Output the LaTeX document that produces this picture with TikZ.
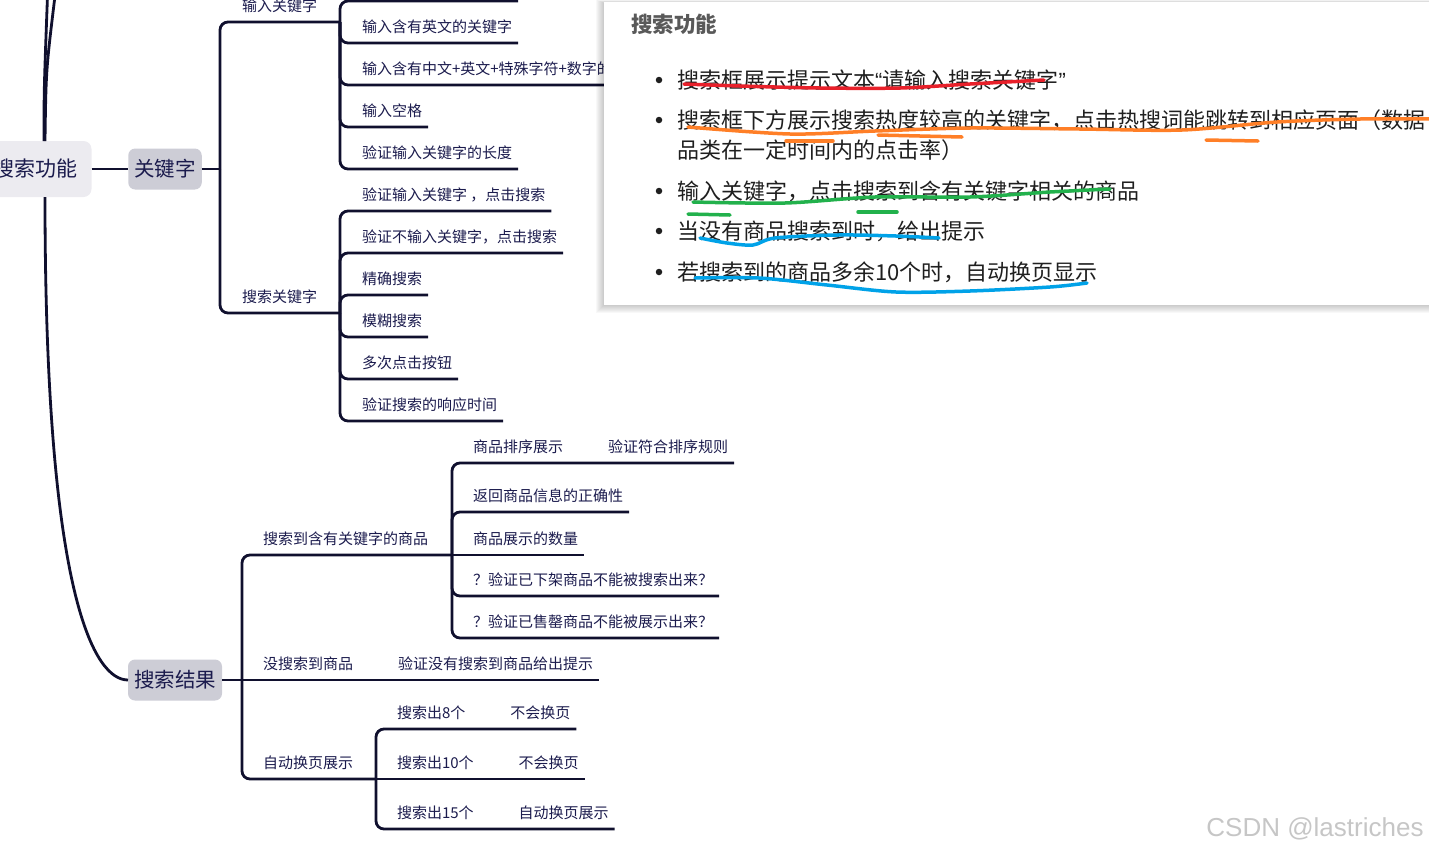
\documentclass[tikz,border=0pt]{standalone}
\usepackage{fontspec}
\newfontfamily\cjk{Noto Sans CJK SC}
\newfontfamily\latinfont{Liberation Sans}
\usepackage{xcolor}
\usetikzlibrary{positioning, calc}
\definecolor{ink}{HTML}{1B1B4D}
\definecolor{wire}{HTML}{10102E}
\definecolor{rootfill}{HTML}{ECEBF0}
\definecolor{hubfill}{HTML}{CDCDD6}
\definecolor{penred}{HTML}{E8202A}
\definecolor{penorange}{HTML}{FF7F27}
\definecolor{pengreen}{HTML}{22B14C}
\definecolor{penblue}{HTML}{00A2E8}
\definecolor{wmgray}{HTML}{C6C6C6}

\begin{document}
\begin{tikzpicture}[
    x=1pt, y=-1pt,
    node distance=0pt and 33pt,
    branch/.style  = {draw=wire, line width=2.8pt, rounded corners=8pt},
    root/.style    = {rectangle, rounded corners=8pt, fill=rootfill, text=ink,
                      font=\cjk\fontsize{21}{24}\selectfont,
                      minimum width=111pt, minimum height=56pt, outer sep=0pt},
    hub/.style     = {rectangle, rounded corners=7pt, fill=hubfill, text=ink,
                      font=\cjk\fontsize{20.5}{24}\selectfont,
                      minimum height=41pt, inner xsep=6pt, outer sep=0pt},
    topic/.style   = {anchor=south west, inner xsep=6pt, inner ysep=9pt,
                      outer sep=0pt, text height=11pt, text depth=2pt,
                      text=ink, font=\cjk\fontsize{15}{18}\selectfont},
    heading/.style = {anchor=west, inner sep=0pt, text=black!65,
                      font=\cjk\bfseries\fontsize{21.5}{24}\selectfont},
    item/.style    = {anchor=west, inner sep=0pt, text=black!88,
                      font=\cjk\fontsize{22}{26}\selectfont},
    dot/.style     = {circle, fill=black!88, inner sep=0pt, minimum size=6.5pt},
    pen/.style     = {line width=3.5pt, line cap=round, line join=round},
    watermark/.style = {inner sep=0pt, text=wmgray,
                      font=\latinfont\fontsize{26}{30}\selectfont},
]
\useasboundingbox (0,0) rectangle (1429,855);

% main topics
\node[root] (root) at (36,169) {搜索功能};
\node[hub]  (kw)   at (165,169) {关键字};
\node[hub]  (res)  at (175,680) {搜索结果};

\coordinate (upA) at (47.5,-4);
\coordinate (upB) at (55,-4);
\draw[branch] ([xshift=8pt]root.north) .. controls (44,90) .. (upA);
\draw[branch] ([xshift=9pt]root.north) .. controls (46,70) .. (upB);
\draw[branch] ([xshift=9pt]root.south) .. controls (45,600) and (95,680) .. (res.west);
\draw[branch] (root) -- (kw);

% keyword branch
\coordinate (kwj) at (220,169);
\node[topic] (inkw) at (236,22) {输入关键字};
\coordinate (inkwj) at (340,22);
\coordinate (cut0) at (518,1);
\node[topic] (inen)    at (356,43)  {输入含有英文的关键字};
\node[topic] (inmix)   at (356,85)  {输入含有中文+英文+特殊字符+数字的};
\node[topic] (inspace) at (356,127) {输入空格};
\node[topic] (inlen)   at (356,169) {验证输入关键字的长度};

\node[topic] (srkw) at (236,313) {搜索关键字};
\coordinate (srkwj) at (340,313);
\node[topic] (vkw)   at (356,211) {验证输入关键字 ，点击搜索};
\node[topic] (vnokw) at (356,253) {验证不输入关键字，点击搜索};
\node[topic] (exact) at (356,295) {精确搜索};
\node[topic] (fuzzy) at (356,337) {模糊搜索};
\node[topic] (multi) at (356,379) {多次点击按钮};
\node[topic] (resp)  at (356,421) {验证搜索的响应时间};

\draw[branch] (kw) -- (kwj);
\draw[branch] (kwj) |- (inkw.south west) -- (inkwj);
\draw[branch] (kwj) |- (srkw.south west) -- (srkwj);
\draw[branch] (inkwj) |- (cut0);
\draw[branch] (inkwj) |- (inen.south west) -- (inen.south east);
\draw[branch] (inkwj) |- (inmix.south west) -- (inmix.south east);
\draw[branch] (inkwj) |- (inspace.south west) -- (inspace.south east);
\draw[branch] (inkwj) |- (inlen.south west) -- (inlen.south east);
\draw[branch] (srkwj) |- (vkw.south west) -- (vkw.south east);
\draw[branch] (srkwj) |- (vnokw.south west) -- (vnokw.south east);
\draw[branch] (srkwj) |- (exact.south west) -- (exact.south east);
\draw[branch] (srkwj) |- (fuzzy.south west) -- (fuzzy.south east);
\draw[branch] (srkwj) |- (multi.south west) -- (multi.south east);
\draw[branch] (srkwj) |- (resp.south west) -- (resp.south east);

% result branch
\coordinate (resj) at (242,680);
\node[topic] (found) at (257,555) {搜索到含有关键字的商品};
\coordinate (foundj) at (452,555);
\node[topic] (sort) at (467,463) {商品排序展示};
\node[topic, right=of sort] (rule) {验证符合排序规则};
\node[topic] (info)     at (467,512) {返回商品信息的正确性};
\node[topic] (count)    at (467,555) {商品展示的数量};
\node[topic] (offshelf) at (467,596) {？验证已下架商品不能被搜索出来？};
\node[topic] (soldout)  at (467,638) {？验证已售罄商品不能被展示出来？};

\node[topic] (none) at (257,680) {没搜索到商品};
\node[topic, right=of none] (notice) {验证没有搜索到商品给出提示};

\node[topic] (auto) at (257,779) {自动换页展示};
\coordinate (autoj) at (376,779);
\node[topic] (n8)  at (391,729) {搜索出8个};
\node[topic, right=of n8] (keep8) {不会换页};
\node[topic] (n10) at (391,779) {搜索出10个};
\node[topic, right=of n10] (keep10) {不会换页};
\node[topic] (n15) at (391,829) {搜索出15个};
\node[topic, right=of n15] (flip15) {自动换页展示};

\draw[branch] (res) -- (resj);
\draw[branch] (resj) |- (found.south west) -- (foundj);
\draw[branch] (resj) -- (none.south west) -- (notice.south east);
\draw[branch] (resj) |- (auto.south west) -- (autoj);
\draw[branch] (foundj) |- (sort.south west) -- (rule.south east);
\draw[branch] (foundj) |- (info.south west) -- (info.south east);
\draw[branch] (foundj) -- (count.south west) -- (count.south east);
\draw[branch] (foundj) |- (offshelf.south west) -- (offshelf.south east);
\draw[branch] (foundj) |- (soldout.south west) -- (soldout.south east);
\draw[branch] (autoj) |- (n8.south west) -- (keep8.south east);
\draw[branch] (autoj) -- (n10.south west) -- (keep10.south east);
\draw[branch] (autoj) |- (n15.south west) -- (flip15.south east);

% note popup with a soft shadow
\foreach \s in {1,...,8}
  \fill[black, opacity=0.028] (604-\s,3-0.4*\s) rectangle (1440,305+\s);
\fill[white] (604,2) rectangle (1440,305);

\node[heading] (title) at (631,24) {搜索功能};
\node[dot] (b1) at (659,80)  {};
\node[dot] (b2) at (659,120) {};
\node[dot] (b3) at (659,191) {};
\node[dot] (b4) at (659,231) {};
\node[dot] (b5) at (659,272) {};
\node[item] (i1)  at (677,80)  {搜索框展示提示文本{\latinfont “}请输入搜索关键字{\latinfont ”}};
\node[item] (i2)  at (677,120) {搜索框下方展示搜索热度较高的关键字，点击热搜词能跳转到相应页面（数据};
\node[item] (i2b) at (677,150) {品类在一定时间内的点击率）};
\node[item] (i3)  at (677,191) {输入关键字，点击搜索到含有关键字相关的商品};
\node[item] (i4)  at (677,231) {当没有商品搜索到时，给出提示};
\node[item] (i5)  at (677,272) {若搜索到的商品多余10个时，自动换页显示};

% hand-drawn marks
\draw[pen, penred] plot[smooth] coordinates
  {(684,84) (740,86) (820,88) (900,88) (970,84) (1044,80)};
\draw[pen, penorange] plot[smooth] coordinates
  {(688,127) (790,134) (875,131) (970,128) (1080,129) (1182,130) (1277,122) (1360,119) (1435,119)};
\draw[pen, penorange] (786,141) -- (833,141);
\draw[pen, penorange] (878,135) -- (962,137);
\draw[pen, penorange] (1206,140) -- (1258,141);
\draw[pen, pengreen] plot[smooth] coordinates
  {(693,202) (785,203) (875,197) (970,197) (1050,192) (1110,189)};
\draw[pen, pengreen] (688,214) -- (730,215);
\draw[pen, pengreen] (858,212) -- (897,212);
\draw[pen, penblue] plot[smooth] coordinates
  {(700,238) (727,243) (753,245) (775,238) (838,235) (896,236) (939,238)};
\draw[pen, penblue] plot[smooth] coordinates
  {(695,278) (759,278) (827,285) (896,292) (970,291) (1050,287) (1087,283)};

\node[watermark] (wm) at (1315,829) {CSDN @lastriches};
\end{tikzpicture}
\end{document}
